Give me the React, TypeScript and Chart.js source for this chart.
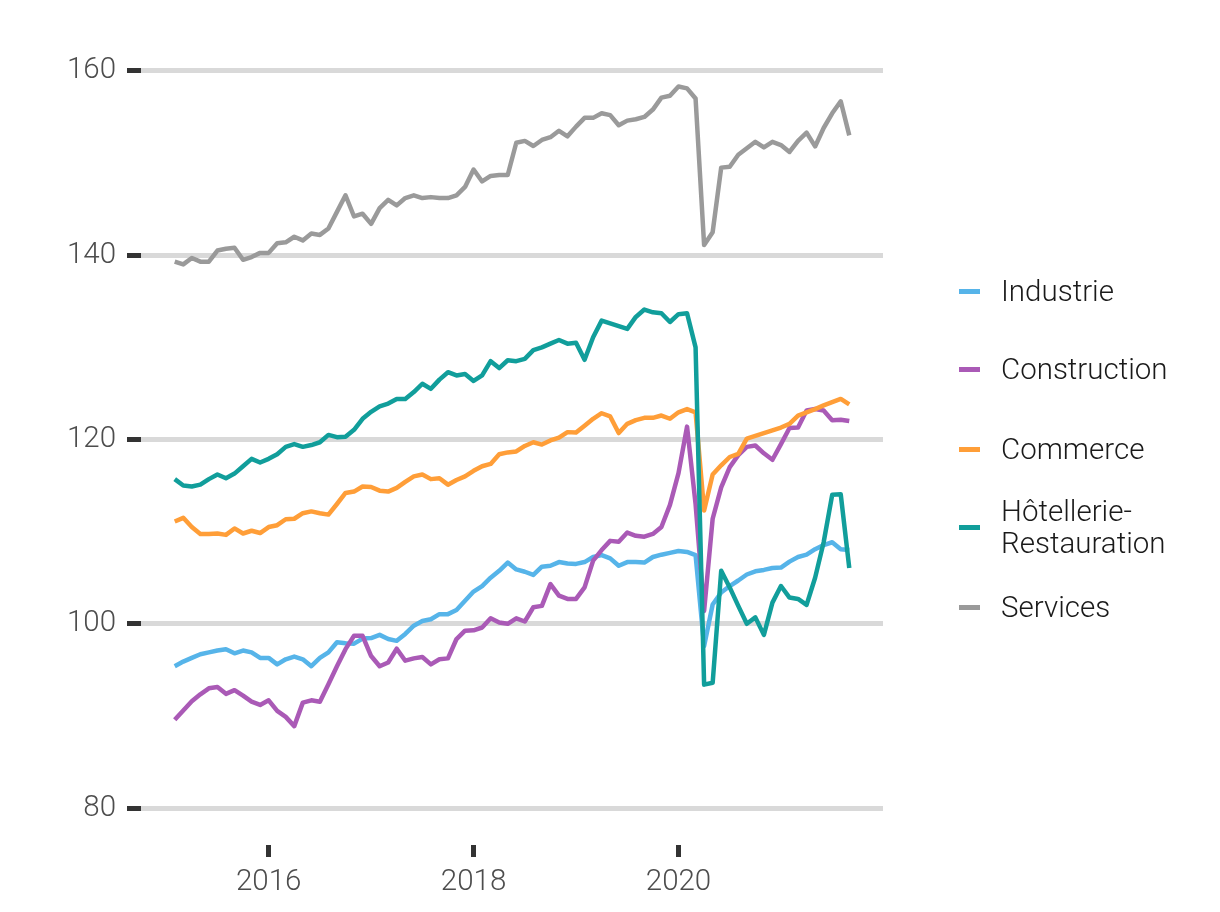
import React, { useEffect, useRef } from "react";
import { Chart, registerables } from "chart.js";

Chart.register(...registerables);

// Monthly index values, first month = February 2015
const START_YEAR = 2015;
const START_MONTH = 2;

const industrie = [
  95.4, 95.9, 96.3, 96.7, 96.9, 97.1, 97.25, 96.8, 97.1, 96.9,
  96.3, 96.3, 95.6, 96.15, 96.45, 96.15, 95.4, 96.3, 96.9, 98.0,
  97.9, 97.85, 98.4, 98.45, 98.8, 98.35, 98.15, 98.9, 99.8, 100.3,
  100.5, 101.05, 101.05, 101.5, 102.5, 103.5, 104.1, 105.0, 105.75, 106.65,
  105.9, 105.65, 105.3, 106.2, 106.3, 106.7, 106.55, 106.5, 106.7, 107.25,
  107.45, 107.1, 106.3, 106.7, 106.7, 106.65, 107.25, 107.5, 107.7, 107.9,
  107.8, 107.45, 97.6, 102.1, 103.4, 104.1, 104.7, 105.35, 105.7, 105.85,
  106.05, 106.1, 106.75, 107.25, 107.5, 108.1, 108.55, 108.85, 108.1, 108.0,
];

const construction = [
  89.6, 90.6, 91.6, 92.35, 93.0, 93.15, 92.4, 92.8, 92.2, 91.55,
  91.2, 91.7, 90.55, 89.9, 88.9, 91.45, 91.7, 91.55, 93.45, 95.4,
  97.25, 98.7, 98.7, 96.5, 95.4, 95.8, 97.3, 96.0, 96.25, 96.4,
  95.6, 96.15, 96.25, 98.35, 99.25, 99.3, 99.6, 100.6, 100.15, 100.0,
  100.6, 100.25, 101.8, 101.95, 104.3, 103.05, 102.7, 102.7, 103.95, 106.85,
  108.0, 109.0, 108.9, 109.9, 109.55, 109.45, 109.75, 110.5, 112.9, 116.35,
  121.4, 113.0, 101.4, 111.4, 114.8, 117.0, 118.3, 119.2, 119.35, 118.5,
  117.8, 119.5, 121.25, 121.3, 123.15, 123.3, 123.15, 122.1, 122.15, 122.0,
];

const commerce = [
  111.1, 111.5, 110.5, 109.75, 109.75, 109.8, 109.65, 110.35, 109.8, 110.1,
  109.85, 110.5, 110.7, 111.35, 111.4, 112.0, 112.2, 112.0, 111.85, 113.0,
  114.2, 114.35, 114.9, 114.85, 114.45, 114.35, 114.75, 115.4, 116.0, 116.2,
  115.7, 115.8, 115.1, 115.6, 116.0, 116.6, 117.1, 117.35, 118.4, 118.6,
  118.7, 119.3, 119.7, 119.45, 119.9, 120.2, 120.8, 120.75, 121.5, 122.25,
  122.85, 122.5, 120.7, 121.7, 122.1, 122.35, 122.35, 122.6, 122.25, 122.95,
  123.3, 122.95, 112.3, 116.2, 117.2, 118.1, 118.45, 120.1, 120.4, 120.7,
  121.0, 121.3, 121.7, 122.6, 122.95, 123.3, 123.7, 124.05, 124.4, 123.8,
];

const hotellerie = [
  115.7, 115.0, 114.9, 115.1, 115.7, 116.2, 115.8, 116.3, 117.1, 117.9,
  117.5, 117.9, 118.4, 119.2, 119.5, 119.2, 119.4, 119.7, 120.5, 120.25,
  120.3, 121.05, 122.25, 123.0, 123.6, 123.9, 124.4, 124.4, 125.15, 126.05,
  125.5, 126.5, 127.3, 126.95, 127.1, 126.35, 126.95, 128.5, 127.75, 128.6,
  128.5, 128.75, 129.7, 130.0, 130.4, 130.8, 130.4, 130.5, 128.65, 131.1,
  132.9, 132.6, 132.3, 132.0, 133.3, 134.1, 133.8, 133.7, 132.75, 133.6,
  133.7, 130.0, 93.4, 93.6, 105.75, 103.95, 101.95, 100.0, 100.7, 98.8,
  102.3, 104.1, 102.85, 102.7, 102.05, 105.0, 108.85, 114.0, 114.05, 106.05,
];

const services = [
  139.3, 139.0, 139.7, 139.3, 139.3, 140.5, 140.7, 140.8, 139.5, 139.8,
  140.25, 140.25, 141.3, 141.4, 142.0, 141.6, 142.35, 142.2, 142.9, 144.7,
  146.5, 144.2, 144.5, 143.4, 145.1, 146.0, 145.4, 146.2, 146.5, 146.2,
  146.3, 146.2, 146.2, 146.5, 147.4, 149.3, 148.0, 148.6, 148.7, 148.7,
  152.2, 152.4, 151.85, 152.5, 152.8, 153.5, 152.9, 153.95, 154.9, 154.9,
  155.4, 155.2, 154.1, 154.6, 154.75, 155.0, 155.8, 157.1, 157.3, 158.3,
  158.1, 157.0, 141.1, 142.5, 149.5, 149.6, 150.9, 151.6, 152.3, 151.7,
  152.3, 151.95, 151.2, 152.4, 153.3, 151.8, 153.8, 155.4, 156.7, 153.0,
];

const seriesNames = ["Industrie", "Construction", "Commerce", "Hôtellerie-Restauration", "Services"];
const legendLines = [["Industrie"], ["Construction"], ["Commerce"], ["Hôtellerie-", "Restauration"], ["Services"]];
const seriesColors = ["#56B4E9", "#AA5AB6", "#FF9E38", "#119E9B", "#9A9A9A"];
const seriesData = [industrie, construction, commerce, hotellerie, services];

const xTicks = [2016, 2018, 2020];
const yTicks = [80, 100, 120, 140, 160];
const yLimits = [80, 160];

const FONT = "Roboto, 'Noto Sans', 'DejaVu Sans', sans-serif";
const W = 1220;
const H = 912;

// layout (pixels)
const PLOT_LEFT = 141;
const PLOT_RIGHT = 883;
const PLOT_TOP = 34;
const PLOT_BOTTOM = 845;
const LEGEND_CENTERS = [291, 369, 449, 527, 607];

function monthX(i: number) {
  return START_YEAR + (START_MONTH - 1 + i) / 12;
}

export default function App() {
  const canvasRef = useRef<HTMLCanvasElement | null>(null);

  useEffect(() => {
    const canvas = canvasRef.current;
    if (!canvas) return;
    const n = services.length;
    const x0 = monthX(0);
    const x1 = monthX(n - 1);
    const xPad = (x1 - x0) * 0.05;
    const yPad = (yLimits[1] - yLimits[0]) * 0.05;

    const drawOrder = [5, 4, 3, 2, 1];
    const datasets = seriesData.map((arr, k) => ({
      label: seriesNames[k],
      data: arr.map((v, i) => ({ x: monthX(i), y: v })),
      borderColor: seriesColors[k],
      backgroundColor: seriesColors[k],
      borderWidth: 4.5,
      pointRadius: 0,
      tension: 0,
      fill: false,
      borderJoinStyle: "round" as const,
      borderCapStyle: "butt" as const,
      order: drawOrder[k],
    }));

    const chart = new Chart(canvas, {
      type: "line",
      data: { datasets },
      options: {
        responsive: false,
        animation: false,
        devicePixelRatio: 1,
        layout: {
          padding: { left: 0, top: PLOT_TOP, right: W - PLOT_RIGHT, bottom: 0 },
        },
        plugins: {
          legend: { display: false },
          tooltip: { enabled: false },
        },
        scales: {
          x: {
            type: "linear",
            min: x0 - xPad,
            max: x1 + xPad,
            afterBuildTicks: (scale: any) => {
              scale.ticks = xTicks.map((v) => ({ value: v }));
            },
            afterFit: (scale: any) => {
              scale.height = H - PLOT_BOTTOM;
            },
            grid: {
              display: true,
              drawOnChartArea: false,
              drawTicks: true,
              tickLength: 12,
              tickWidth: 5,
              tickColor: "#333333",
            },
            border: { display: false },
            ticks: {
              padding: 8,
              maxRotation: 0,
              autoSkip: false,
              color: "#4d4d4d",
              font: { family: FONT, size: 29.5, weight: "300" as any },
              callback: (v: any) => String(v),
            },
          },
          y: {
            type: "linear",
            min: yLimits[0] - yPad,
            max: yLimits[1] + yPad,
            afterBuildTicks: (scale: any) => {
              scale.ticks = yTicks.map((v) => ({ value: v }));
            },
            afterFit: (scale: any) => {
              scale.width = PLOT_LEFT;
            },
            grid: {
              display: true,
              drawOnChartArea: true,
              color: "#d9d9d9",
              lineWidth: 5,
              drawTicks: true,
              tickLength: 14,
              tickWidth: 5,
              tickColor: "#333333",
            },
            border: { display: false },
            ticks: {
              padding: 11,
              autoSkip: false,
              color: "#4d4d4d",
              font: { family: FONT, size: 29.5, weight: "300" as any },
              callback: (v: any) => String(v),
            },
          },
        },
      },
    });
    return () => chart.destroy();
  }, []);

  return (
    <div style={{ position: "absolute", left: 0, top: 0, width: W, height: H, background: "#ffffff", overflow: "hidden" }}>
      <canvas ref={canvasRef} width={W} height={H} style={{ position: "absolute", left: 0, top: 0, width: W, height: H }} />
      {legendLines.map((lines, k) => (
        <div
          key={seriesNames[k]}
          style={{
            position: "absolute",
            left: 959,
            top: LEGEND_CENTERS[k],
            transform: "translateY(-50%)",
            display: "flex",
            alignItems: "center",
          }}
        >
          <div style={{ width: 21, height: 5, background: seriesColors[k], marginRight: 21 }} />
          <div
            style={{
              fontFamily: FONT,
              fontWeight: 300,
              fontSize: 29.5,
              lineHeight: "32px",
              color: "#1a1a1a",
              whiteSpace: "nowrap",
            }}
          >
            {lines.map((t) => (
              <div key={t}>{t}</div>
            ))}
          </div>
        </div>
      ))}
    </div>
  );
}
